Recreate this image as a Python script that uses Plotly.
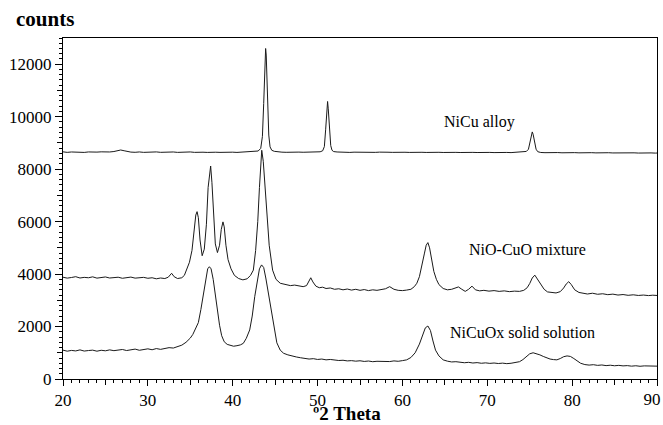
import plotly.graph_objects as go

# ---------------- data ----------------
alloy_x = [
    20, 20.5, 21, 21.5, 22, 22.5, 23, 23.5, 24, 24.5,
    25, 25.5, 26, 26.4, 26.8, 27.2, 27.6, 28, 28.5, 29,
    29.5, 30, 30.5, 31, 31.5, 32, 32.5, 33, 33.5, 34,
    34.5, 35, 35.5, 36, 36.5, 37, 37.5, 38, 38.5, 39,
    39.5, 40, 40.5, 41, 41.5, 42, 42.5, 43, 43.3, 43.5,
    43.65, 43.8, 43.88, 43.95, 44.1, 44.25, 44.4, 44.6, 44.9, 45.3,
    45.8, 46.3, 46.8, 47.3, 47.8, 48.3, 48.8, 49.3, 49.8, 50.3,
    50.6, 50.8, 50.95, 51.1, 51.18, 51.26, 51.4, 51.55, 51.7, 51.9,
    52.3, 52.8, 53.3, 53.8, 54.3, 54.8, 55.3, 55.8, 56.3, 56.8,
    57.3, 57.8, 58.3, 58.8, 59.3, 59.8, 60.3, 60.8, 61.3, 61.8,
    62.3, 62.8, 63.3, 63.8, 64.3, 64.8, 65.3, 65.8, 66.3, 66.8,
    67.3, 67.8, 68.3, 68.8, 69.3, 69.8, 70.3, 70.8, 71.3, 71.8,
    72.3, 72.8, 73.3, 73.8, 74.3, 74.6, 74.85, 75.05, 75.2, 75.3,
    75.4, 75.55, 75.75, 75.95, 76.3, 76.8, 77.3, 77.8, 78.3, 78.8,
    79.3, 79.8, 80.3, 80.8, 81.3, 81.8, 82.3, 82.8, 83.3, 83.8,
    84.3, 84.8, 85.3, 85.8, 86.3, 86.8, 87.3, 87.8, 88.3, 88.8,
    89.3, 89.8, 90,
]
alloy_y = [
    8660, 8640, 8655, 8645, 8652, 8638, 8656, 8644, 8650, 8660,
    8645, 8655, 8672, 8705, 8730, 8702, 8668, 8650, 8642, 8656,
    8640, 8652, 8644, 8657, 8641, 8650, 8646, 8655, 8639, 8650,
    8644, 8656, 8640, 8651, 8646, 8638, 8652, 8645, 8639, 8651,
    8640, 8647, 8638, 8650, 8644, 8652, 8662, 8692, 8790, 9250,
    10500, 12300, 12600, 12350, 10600, 9300, 8850, 8720, 8680, 8660,
    8648, 8642, 8651, 8639, 8650, 8644, 8652, 8640, 8649, 8662,
    8700, 8860, 9500, 10300, 10580, 10300, 9500, 8900, 8720, 8670,
    8655, 8644, 8652, 8638, 8648, 8641, 8650, 8637, 8646, 8640,
    8649, 8636, 8645, 8640, 8648, 8635, 8644, 8638, 8646, 8634,
    8643, 8637, 8645, 8633, 8642, 8636, 8644, 8632, 8640, 8635,
    8642, 8631, 8639, 8634, 8641, 8630, 8638, 8632, 8640, 8629,
    8637, 8631, 8638, 8640, 8650, 8675, 8760, 9060, 9350, 9420,
    9330, 9050, 8760, 8665, 8636, 8628, 8635, 8626, 8633, 8624,
    8632, 8625, 8630, 8622, 8629, 8621, 8628, 8620, 8627, 8619,
    8626, 8618, 8624, 8617, 8623, 8616, 8622, 8614, 8621, 8613,
    8619, 8612, 8615,
]

mix_x = [
    20, 20.5, 21, 21.5, 22, 22.5, 23, 23.5, 24, 24.5,
    25, 25.5, 26, 26.5, 27, 27.5, 28, 28.5, 29, 29.5,
    30, 30.5, 31, 31.5, 32, 32.4, 32.8, 33.1, 33.5, 34,
    34.3, 34.6, 34.9, 35.2, 35.45, 35.65, 35.8, 35.95, 36.15, 36.4,
    36.65, 36.9, 37.1, 37.3, 37.4, 37.55, 37.75, 37.95, 38.2, 38.45,
    38.65, 38.85, 39.0, 39.2, 39.45, 39.8, 40.2, 40.7, 41.2, 41.7,
    42.1, 42.43, 42.7, 42.95, 43.15, 43.3, 43.42, 43.6, 43.8, 44.0,
    44.3, 44.7, 45.1, 45.6, 46.2, 46.8, 47.3, 47.8, 48.3, 48.7,
    49.0, 49.2, 49.45, 49.8, 50.2, 50.6, 51, 51.5, 52, 52.5,
    53, 53.5, 54, 54.5, 55, 55.5, 56, 56.5, 57, 57.5,
    58, 58.5, 59, 59.5, 60, 60.5, 61, 61.4, 61.7, 62.0,
    62.3, 62.6, 62.8, 63.0, 63.2, 63.45, 63.7, 64.0, 64.3, 64.8,
    65.3, 65.8, 66.2, 66.6, 67.0, 67.4, 67.8, 68.2, 68.6, 69.1,
    69.6, 70.2, 70.8, 71.4, 72, 72.6, 73.2, 73.8, 74.3, 74.7,
    75.0, 75.3, 75.6, 75.9, 76.3, 76.7, 77.1, 77.6, 78.1, 78.6,
    79.0, 79.3, 79.6, 79.9, 80.3, 80.8, 81.3, 81.8, 82.4, 83,
    83.6, 84.2, 84.8, 85.4, 86, 86.6, 87.2, 87.8, 88.4, 89,
    89.5, 90,
]
mix_y = [
    3880, 3845, 3870, 3900, 3850, 3875, 3860, 3895, 3845, 3870,
    3890, 3850, 3865, 3880, 3840, 3870, 3885, 3845, 3860, 3875,
    3840, 3860, 3820, 3850, 3830, 3880, 4030, 3900, 3830, 3860,
    3950, 4200, 4450, 4900, 5600, 6250, 6380, 6150, 5300, 4700,
    4950, 5900, 7300, 8050, 8120, 7500, 6200, 5150, 4820, 5100,
    5700, 5990, 5800, 5100, 4550, 4200, 3950, 3830, 3780, 3820,
    3950, 4150, 4900, 6000, 7300, 8300, 8720, 8300, 7300, 6200,
    5100, 4150, 3800, 3650, 3600, 3560, 3580, 3540, 3520, 3560,
    3760, 3860, 3700, 3540, 3480, 3500, 3450, 3470, 3420, 3440,
    3400, 3430, 3390, 3420, 3380, 3410, 3370, 3400, 3380, 3420,
    3440, 3520, 3420, 3380, 3370, 3390, 3420, 3520, 3650, 3900,
    4300, 4800, 5100, 5200, 5000, 4600, 4100, 3800, 3600, 3450,
    3400, 3420, 3460, 3510, 3420, 3340, 3420, 3540, 3400, 3360,
    3380, 3350, 3370, 3340, 3360, 3330, 3350, 3340, 3380, 3480,
    3640, 3850, 3960, 3820, 3620, 3420, 3320, 3290, 3280, 3330,
    3470, 3620, 3710, 3600, 3400, 3300, 3260, 3240, 3270, 3230,
    3250, 3215, 3235, 3200, 3220, 3190, 3210, 3185, 3200, 3180,
    3195, 3185,
]

sol_x = [
    20, 20.5, 21, 21.5, 22, 22.5, 23, 23.5, 24, 24.5,
    25, 25.5, 26, 26.5, 27, 27.5, 28, 28.5, 29, 29.5,
    30, 30.5, 31, 31.5, 32, 32.5, 33, 33.5, 34, 34.5,
    35, 35.3, 35.6, 35.95, 36.25, 36.55, 36.8, 37.05, 37.25, 37.45,
    37.7, 37.95, 38.2, 38.45, 38.7, 39.0, 39.35, 39.7, 40.1, 40.5,
    40.9, 41.25, 41.6, 42.0, 42.3, 42.6, 42.9, 43.15, 43.4, 43.65,
    43.9, 44.2, 44.6, 44.9, 45.2, 45.6, 46.0, 46.5, 47, 47.5,
    48, 48.5, 49, 49.5, 50, 50.5, 51, 51.5, 52, 52.5,
    53, 53.5, 54, 54.5, 55, 55.5, 56, 56.5, 57, 57.5,
    58, 58.5, 59, 59.5, 60, 60.5, 61, 61.5, 62, 62.4,
    62.7, 63.0, 63.3, 63.6, 63.9, 64.3, 64.8, 65.3, 65.8, 66.3,
    66.8, 67.3, 67.8, 68.3, 68.8, 69.3, 69.8, 70.3, 70.8, 71.3,
    71.8, 72.3, 72.8, 73.3, 73.8, 74.2, 74.6, 75.0, 75.4, 75.8,
    76.2, 76.6, 77.0, 77.4, 77.8, 78.2, 78.6, 79.0, 79.4, 79.8,
    80.2, 80.6, 81.0, 81.5, 82, 82.5, 83, 83.5, 84, 84.5,
    85, 85.5, 86, 86.5, 87, 87.5, 88, 88.5, 89, 89.5,
    90,
]
sol_y = [
    1100, 1060, 1090, 1070, 1110, 1065, 1085, 1100, 1060, 1095,
    1075, 1110, 1080, 1100, 1125, 1085, 1110, 1140, 1095, 1130,
    1150, 1115, 1160, 1130, 1175, 1195, 1180, 1230, 1290, 1400,
    1560, 1700, 1900, 2150, 2650, 3300, 3850, 4200, 4280, 4200,
    3800, 3200, 2600, 2050, 1650, 1420, 1320, 1280, 1250, 1270,
    1300, 1360, 1550, 1870, 2400, 3150, 3800, 4200, 4350, 4250,
    3850, 3250, 2500, 1850, 1380, 1100, 980, 920, 870, 840,
    810, 790, 760, 775, 745, 760, 730, 745, 720, 705,
    715, 690, 700, 680, 695, 670, 685, 660, 675, 665,
    680, 665, 690, 675, 700, 730, 820, 1000, 1330, 1720,
    1950, 2020, 1850, 1450, 1100, 880, 730, 680, 650, 660,
    640, 620, 635, 610, 625, 600, 615, 595, 610, 590,
    605, 585, 600, 620, 660, 740, 860, 960, 1000, 970,
    920, 860, 800, 760, 740, 730, 780, 850, 880, 860,
    780, 680, 600, 550, 530, 545, 520, 535, 510, 525,
    505, 520, 500, 510, 490, 505, 485, 500, 490, 495,
    490,
]

labels = ["NiCu alloy", "NiO-CuO mixture", "NiCuOx solid solution"]
label_x = [69.1, 74.7, 74.1]
label_y = [9790, 4950, 1780]

x_ticks = [20, 30, 40, 50, 60, 70, 80, 90]
x_tick_text = ["20", "30", "40", "50", "60", "70", "80", ""]
x_mid_ticks = [25, 35, 45, 55, 65, 75, 85, 90]
x_mid_text = ["", "", "", "", "", "", "", "90"]
y_ticks = [0, 2000, 4000, 6000, 8000, 10000, 12000]
y_tick_text = ["0", "2000", "4000", "6000", "8000", "10000", "12000"]
y_mid_ticks = [1000, 3000, 5000, 7000, 9000, 11000]

x_range = [20, 90]
y_range = [0, 13000]

FONT = "Liberation Serif"
TICKFONT = dict(family=FONT, size=17, color="black")

fig = go.Figure()
for xs, ys in [(alloy_x, alloy_y), (mix_x, mix_y), (sol_x, sol_y)]:
    fig.add_trace(go.Scatter(x=xs, y=ys, mode="lines",
                             line=dict(color="#1a1a1a", width=1),
                             showlegend=False, hoverinfo="skip"))
# empty helper traces so the overlay axes (5-step / 1000-step ticks) get drawn
fig.add_trace(go.Scatter(x=[], y=[], xaxis="x2", yaxis="y", showlegend=False, hoverinfo="skip"))
fig.add_trace(go.Scatter(x=[], y=[], xaxis="x", yaxis="y2", showlegend=False, hoverinfo="skip"))

for t, xx, yy in zip(labels, label_x, label_y):
    fig.add_annotation(x=xx, y=yy, text=t, showarrow=False,
                       font=dict(family=FONT, size=16, color="black"),
                       xanchor="center", yanchor="middle")

fig.add_annotation(xref="paper", yref="paper", x=-0.083, y=1.055,
                   text="<b>counts</b>", showarrow=False,
                   xanchor="left", yanchor="middle",
                   font=dict(family=FONT, size=21, color="black"))
fig.add_annotation(xref="paper", yref="paper", x=0.478, y=-0.1026,
                   text="<b>º2 Theta</b>", showarrow=False,
                   xanchor="center", yanchor="middle",
                   font=dict(family=FONT, size=19, color="black"))

base = dict(showgrid=False, zeroline=False, ticks="outside",
            tickcolor="black", tickwidth=1)

fig.update_layout(
    template="none",
    width=663, height=425,
    margin=dict(l=63, r=6, t=38, b=46, pad=0),
    paper_bgcolor="white", plot_bgcolor="white",
    font=dict(family=FONT, size=17, color="black"),
    showlegend=False,
    xaxis=dict(range=x_range, tickmode="array", tickvals=x_ticks, ticktext=x_tick_text,
               ticklen=6, mirror=True, showline=True, linecolor="black", linewidth=1,
               tickfont=TICKFONT,
               minor=dict(dtick=1, tick0=0, ticklen=3, ticks="outside",
                          tickcolor="black", showgrid=False), **base),
    yaxis=dict(range=y_range, tickmode="array", tickvals=y_ticks, ticktext=y_tick_text,
               ticklen=7, mirror=True, showline=True, linecolor="black", linewidth=1,
               tickfont=TICKFONT,
               minor=dict(dtick=200, tick0=0, ticklen=3, ticks="outside",
                          tickcolor="black", showgrid=False), **base),
    xaxis2=dict(range=x_range, overlaying="x", anchor="y", side="bottom",
                tickmode="array", tickvals=x_mid_ticks, ticktext=x_mid_text,
                ticklen=5, ticklabelshift=-5, tickfont=TICKFONT, showline=False, **base),
    yaxis2=dict(range=y_range, overlaying="y", anchor="x", side="left",
                tickmode="array", tickvals=y_mid_ticks, showticklabels=False,
                ticklen=5, showline=False, **base),
)

fig.write_html("out.html")
